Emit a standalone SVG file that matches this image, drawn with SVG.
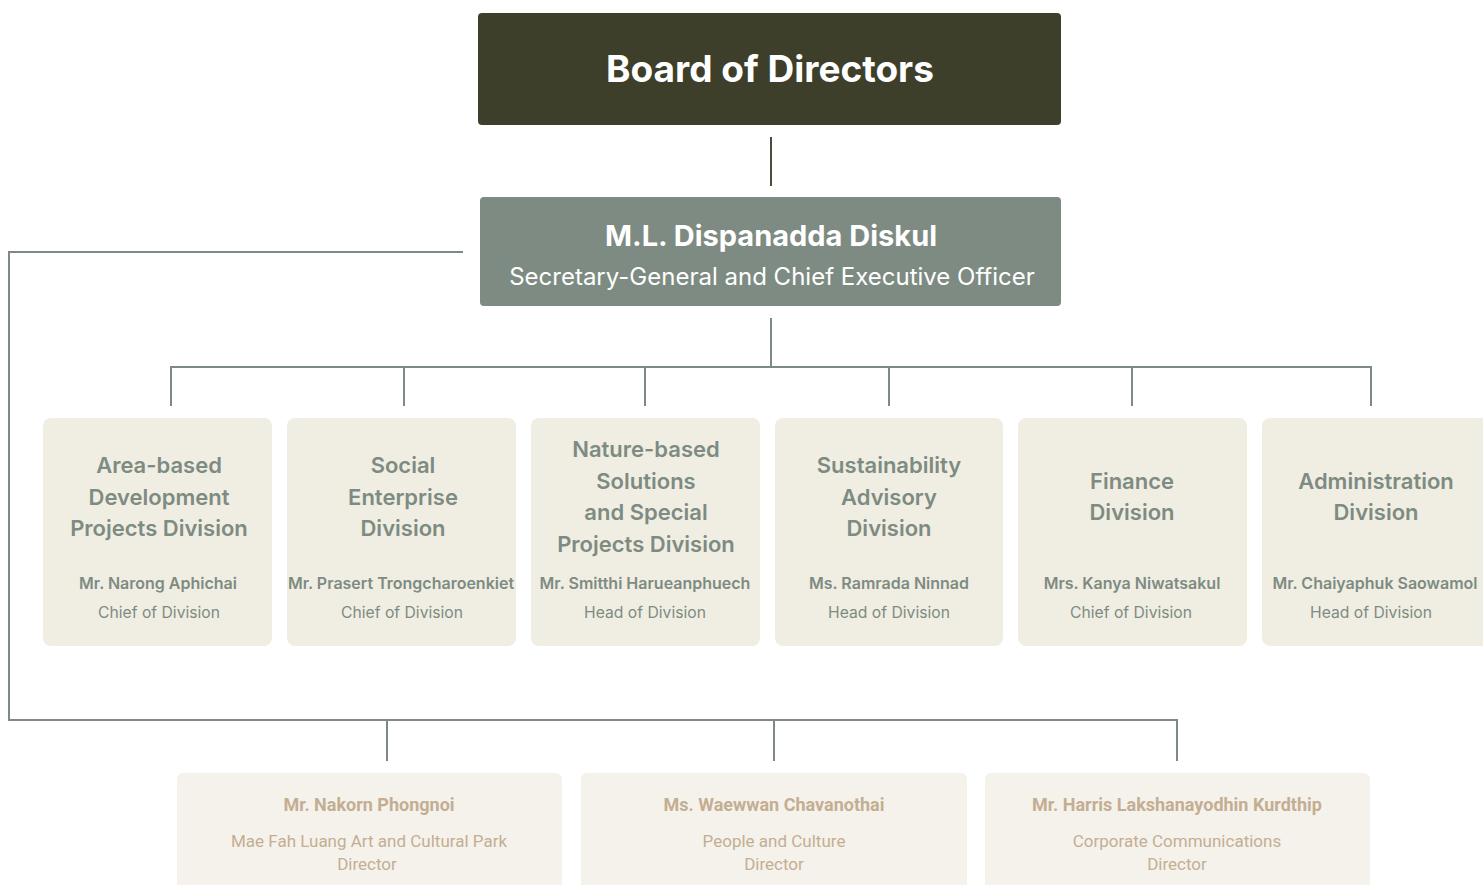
<svg xmlns="http://www.w3.org/2000/svg" width="1483" height="885" viewBox="0 0 1483 885">
<style>
.conn{fill:none;stroke:#7e8b82;stroke-width:2}
.conn-dark{fill:none;stroke:#4a4c3c;stroke-width:2}
.div{fill:#f0eee3}
.ext{fill:#f5f2ec}
.t{font-family:Inter,Roboto,"Liberation Sans",sans-serif;text-anchor:middle}
.c{font-family:Roboto,"Liberation Sans",sans-serif;text-anchor:middle}
.dt{font-size:22px;font-weight:600;fill:#7e8b82}
.dn{font-size:16px;font-weight:600;fill:#7e8b82}
.dr{font-size:15.7px;fill:#7e8b82}
.en{font-size:18px;font-weight:700;fill:#c4ae92}
.er{font-size:17px;fill:#c4ae92}
</style>
<rect width="1483" height="885" fill="#ffffff"/>
<g id="connectors">
<line class="conn-dark" x1="771" y1="137" x2="771" y2="186"/>
<path class="conn" d="M771 318 V367 M171 406 V367 H1371 V406 M404 367 V406 M645 367 V406 M889 367 V406 M1132 367 V406"/>
<path class="conn" d="M463 252 H9 V720 H1177 V761 M387 720 V761 M774 720 V761"/>
</g>
<g id="board">
<rect x="478" y="13" width="583" height="112" rx="4" fill="#3d3f2b"/>
<text class="t" x="770" y="82" font-size="37" font-weight="700" fill="#ffffff">Board of Directors</text>
</g>
<g id="ceo">
<rect x="480" y="197" width="581" height="109" rx="4" fill="#7e8b82"/>
<text class="t" x="771" y="246" font-size="29" font-weight="700" fill="#ffffff">M.L. Dispanadda Diskul</text>
<text class="t" x="772" y="285" font-size="24" fill="#ffffff">Secretary-General and Chief Executive Officer</text>
</g>
<g id="div1">
<rect class="div" x="43" y="418" width="229" height="228" rx="8"/>
<text class="t dt" x="159" y="473">Area-based</text>
<text class="t dt" x="159" y="505">Development</text>
<text class="t dt" x="159" y="536">Projects Division</text>
<text class="t dn" x="158" y="589">Mr. Narong Aphichai</text>
<text class="t dr" x="159" y="618">Chief of Division</text>
</g>
<g id="div2">
<rect class="div" x="287" y="418" width="229" height="228" rx="8"/>
<text class="t dt" x="403" y="473">Social</text>
<text class="t dt" x="403" y="505">Enterprise</text>
<text class="t dt" x="403" y="536">Division</text>
<text class="t dn" x="401" y="589">Mr. Prasert Trongcharoenkiet</text>
<text class="t dr" x="402" y="618">Chief of Division</text>
</g>
<g id="div3">
<rect class="div" x="531" y="418" width="229" height="228" rx="8"/>
<text class="t dt" x="646" y="457">Nature-based</text>
<text class="t dt" x="646" y="489">Solutions</text>
<text class="t dt" x="646" y="520">and Special</text>
<text class="t dt" x="646" y="552">Projects Division</text>
<text class="t dn" x="645" y="589">Mr. Smitthi Harueanphuech</text>
<text class="t dr" x="645" y="618">Head of Division</text>
</g>
<g id="div4">
<rect class="div" x="775" y="418" width="228" height="228" rx="8"/>
<text class="t dt" x="889" y="473">Sustainability</text>
<text class="t dt" x="889" y="505">Advisory</text>
<text class="t dt" x="889" y="536">Division</text>
<text class="t dn" x="889" y="589">Ms. Ramrada Ninnad</text>
<text class="t dr" x="889" y="618">Head of Division</text>
</g>
<g id="div5">
<rect class="div" x="1018" y="418" width="229" height="228" rx="8"/>
<text class="t dt" x="1132" y="489">Finance</text>
<text class="t dt" x="1132" y="520">Division</text>
<text class="t dn" x="1132" y="589">Mrs. Kanya Niwatsakul</text>
<text class="t dr" x="1131" y="618">Chief of Division</text>
</g>
<g id="div6">
<rect class="div" x="1262" y="418" width="229" height="228" rx="8"/>
<text class="t dt" x="1376" y="489">Administration</text>
<text class="t dt" x="1376" y="520">Division</text>
<text class="t dn" x="1375" y="589">Mr. Chaiyaphuk Saowamol</text>
<text class="t dr" x="1371" y="618">Head of Division</text>
</g>
<g id="ext1">
<rect class="ext" x="177" y="773" width="385" height="125" rx="6"/>
<text class="c en" x="369" y="811">Mr. Nakorn Phongnoi</text>
<text class="c er" x="369" y="847">Mae Fah Luang Art and Cultural Park</text>
<text class="c er" x="367" y="870">Director</text>
</g>
<g id="ext2">
<rect class="ext" x="581" y="773" width="386" height="125" rx="6"/>
<text class="c en" x="774" y="811">Ms. Waewwan Chavanothai</text>
<text class="c er" x="774" y="847">People and Culture</text>
<text class="c er" x="774" y="870">Director</text>
</g>
<g id="ext3">
<rect class="ext" x="985" y="773" width="385" height="125" rx="6"/>
<text class="c en" x="1177" y="811">Mr. Harris Lakshanayodhin Kurdthip</text>
<text class="c er" x="1177" y="847">Corporate Communications</text>
<text class="c er" x="1177" y="870">Director</text>
</g>
</svg>
